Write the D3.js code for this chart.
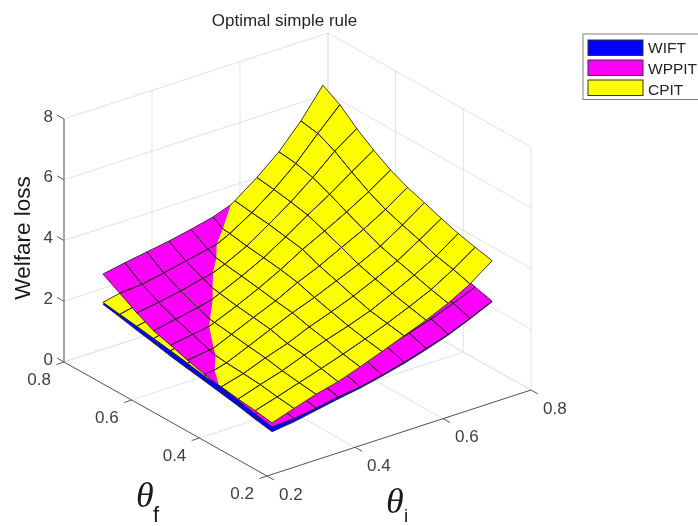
<!DOCTYPE html>
<html lang="en">
<head>
    <meta charset="UTF-8">
    <title>Optimal simple rule</title>
    <script src="https://cdnjs.cloudflare.com/ajax/libs/d3/7.9.0/d3.min.js"></script>
    <style>
        body {
            margin: 0;
            padding: 0;
            background: white;
            overflow: hidden;
        }
        svg {
            display: block;
            font-family: "Liberation Sans", Arial, sans-serif;
            filter: blur(0.5px);
        }
    </style>
</head>
<body>
<svg id="chart" width="698" height="526"></svg>
<script>
    // grid of the surfaces, same for both theta axes
    const thetaGrid = [0.25, 0.30, 0.35, 0.40, 0.45, 0.50, 0.55, 0.60, 0.65, 0.70, 0.75];

    const axisTicks = [0.2, 0.4, 0.6, 0.8];
    const zTicks = [0, 2, 4, 6, 8];

    const seriesNames = ["WIFT", "WPPIT", "CPIT"];
    const seriesColors = ["#0000ff", "#ff00ff", "#ffff00"];

    // welfare loss, rows = theta_f from 0.25 up, columns = theta_i from 0.25 up
    const lossWIFT = [
        [0.91, 1.00, 1.14, 1.28, 1.40, 1.56, 1.74, 1.96, 2.20, 2.50, 2.83],
        [1.01, 1.09, 1.21, 1.34, 1.46, 1.62, 1.80, 2.02, 2.27, 2.57, 2.90],
        [1.13, 1.19, 1.29, 1.41, 1.53, 1.68, 1.86, 2.08, 2.33, 2.64, 2.97],
        [1.23, 1.28, 1.37, 1.48, 1.60, 1.75, 1.93, 2.15, 2.40, 2.71, 3.05],
        [1.33, 1.37, 1.45, 1.56, 1.68, 1.83, 2.01, 2.23, 2.48, 2.79, 3.14],
        [1.42, 1.46, 1.54, 1.64, 1.76, 1.91, 2.09, 2.31, 2.57, 2.88, 3.24],
        [1.52, 1.56, 1.63, 1.73, 1.85, 2.00, 2.18, 2.41, 2.67, 2.98, 3.35],
        [1.64, 1.67, 1.73, 1.83, 1.95, 2.10, 2.28, 2.51, 2.77, 3.10, 3.47],
        [1.75, 1.78, 1.84, 1.94, 2.06, 2.21, 2.39, 2.62, 2.90, 3.23, 3.60],
        [1.87, 1.90, 1.96, 2.06, 2.18, 2.33, 2.52, 2.75, 3.03, 3.37, 3.75],
        [1.98, 2.02, 2.09, 2.19, 2.31, 2.47, 2.66, 2.90, 3.18, 3.52, 3.92]
    ];
    const lossWPPIT = [
        [1.07, 1.11, 1.21, 1.35, 1.44, 1.60, 1.78, 2.00, 2.23, 2.52, 2.85],
        [1.18, 1.22, 1.34, 1.49, 1.62, 1.79, 1.97, 2.19, 2.42, 2.70, 3.00],
        [1.31, 1.35, 1.48, 1.63, 1.80, 1.98, 2.17, 2.38, 2.62, 2.88, 3.17],
        [1.44, 1.51, 1.62, 1.78, 1.95, 2.13, 2.32, 2.53, 2.76, 3.02, 3.30],
        [1.55, 1.62, 1.76, 1.93, 2.12, 2.30, 2.49, 2.69, 2.91, 3.17, 3.44],
        [1.70, 1.80, 1.91, 2.08, 2.27, 2.46, 2.65, 2.85, 3.08, 3.33, 3.60],
        [1.88, 2.00, 2.12, 2.27, 2.45, 2.65, 2.83, 3.03, 3.27, 3.53, 3.82],
        [2.04, 2.19, 2.33, 2.52, 2.68, 2.85, 3.02, 3.22, 3.45, 3.72, 4.05],
        [2.32, 2.43, 2.57, 2.75, 2.90, 3.05, 3.22, 3.42, 3.67, 3.95, 4.30],
        [2.65, 2.71, 2.85, 3.01, 3.16, 3.32, 3.50, 3.70, 3.95, 4.25, 4.60],
        [2.97, 3.11, 3.23, 3.35, 3.50, 3.67, 3.93, 4.20, 4.45, 4.75, 5.05]
    ];
    const lossCPIT = [
        [1.20, 1.44, 1.67, 1.85, 2.10, 2.37, 2.65, 2.93, 3.25, 3.65, 4.18],
        [1.29, 1.51, 1.74, 1.97, 2.21, 2.47, 2.75, 3.06, 3.39, 3.82, 4.31],
        [1.36, 1.60, 1.82, 2.10, 2.36, 2.59, 2.85, 3.19, 3.55, 3.95, 4.45],
        [1.45, 1.65, 1.93, 2.17, 2.48, 2.74, 3.02, 3.35, 3.71, 4.16, 4.63],
        [1.49, 1.69, 2.00, 2.32, 2.63, 2.90, 3.21, 3.52, 3.88, 4.34, 4.84],
        [1.60, 1.76, 2.08, 2.40, 2.71, 3.08, 3.39, 3.76, 4.12, 4.54, 5.03],
        [1.70, 1.88, 2.16, 2.47, 2.81, 3.19, 3.62, 3.99, 4.38, 4.81, 5.29],
        [1.79, 1.96, 2.22, 2.57, 2.90, 3.27, 3.72, 4.20, 4.65, 5.15, 5.63],
        [1.88, 2.03, 2.33, 2.68, 2.98, 3.34, 3.82, 4.32, 4.89, 5.52, 6.03],
        [1.96, 2.12, 2.40, 2.75, 3.08, 3.44, 3.89, 4.42, 5.04, 5.79, 6.50],
        [2.04, 2.20, 2.47, 2.80, 3.15, 3.50, 3.97, 4.50, 5.11, 5.89, 6.83]
    ];

    const svg = d3.select("#chart");

    // oblique projection: one pixel offset scale per data axis
    const originX = 267, originY = 476;
    const xFromI = d3.scaleLinear().domain([0.2, 0.8]).range([0, 264]);
    const yFromI = d3.scaleLinear().domain([0.2, 0.8]).range([0, -86]);
    const xFromF = d3.scaleLinear().domain([0.2, 0.8]).range([0, -203]);
    const yFromF = d3.scaleLinear().domain([0.2, 0.8]).range([0, -114]);
    const yFromZ = d3.scaleLinear().domain([0, 8]).range([0, -243]);

    function project(ti, tf, z) {
        return [
            originX + xFromI(ti) + xFromF(tf),
            originY + yFromI(ti) + yFromF(tf) + yFromZ(z)
        ];
    }

    const line = d3.line();

    function seg(g, a, b, color, width) {
        g.append("path")
            .attr("d", line([a, b]))
            .attr("fill", "none")
            .attr("stroke", color)
            .attr("stroke-width", width);
    }

    // back walls and floor grid
    const grid = svg.append("g");
    const gridColor = "#e2e2e2";
    axisTicks.forEach(t => {
        // floor
        seg(grid, project(t, 0.2, 0), project(t, 0.8, 0), gridColor, 1);
        seg(grid, project(0.2, t, 0), project(0.8, t, 0), gridColor, 1);
        // walls, verticals
        seg(grid, project(t, 0.8, 0), project(t, 0.8, 8), gridColor, 1);
        seg(grid, project(0.8, t, 0), project(0.8, t, 8), gridColor, 1);
    });
    zTicks.forEach(z => {
        seg(grid, project(0.2, 0.8, z), project(0.8, 0.8, z), gridColor, 1);
        seg(grid, project(0.8, 0.8, z), project(0.8, 0.2, z), gridColor, 1);
    });

    // axis lines and ticks
    const axes = svg.append("g");
    const axisColor = "#5a5a5a";
    seg(axes, project(0.2, 0.8, 0), project(0.2, 0.8, 8), axisColor, 1);
    seg(axes, project(0.2, 0.2, 0), project(0.2, 0.8, 0), axisColor, 1);
    seg(axes, project(0.2, 0.2, 0), project(0.8, 0.2, 0), axisColor, 1);

    const tickFont = 17;
    const tickColor = "#404040";

    axisTicks.forEach(t => {
        const pf = project(0.2, t, 0);
        seg(axes, pf, [pf[0] - 7.6, pf[1] + 2.5], axisColor, 1);
        axes.append("text")
            .attr("x", pf[0] - 13).attr("y", pf[1] + 22.5)
            .attr("text-anchor", "end")
            .attr("font-size", tickFont).attr("fill", tickColor)
            .text(t.toFixed(1));
        const pi = project(t, 0.2, 0);
        seg(axes, pi, [pi[0] + 7, pi[1] + 3.9], axisColor, 1);
        axes.append("text")
            .attr("x", pi[0] + 12).attr("y", pi[1] + 23.5)
            .attr("font-size", tickFont).attr("fill", tickColor)
            .text(t.toFixed(1));
    });
    zTicks.forEach(z => {
        const pz = project(0.2, 0.8, z);
        seg(axes, pz, [pz[0] - 7, pz[1] - 3.9], axisColor, 1);
        axes.append("text")
            .attr("x", pz[0] - 11).attr("y", pz[1] + 2.5)
            .attr("text-anchor", "end")
            .attr("font-size", tickFont).attr("fill", tickColor)
            .text(z);
    });

    // cuts a cell of a surface to the part where sign * (a - b) >= 0
    function clipCell(za, zb, r, c, sign) {
        const corners = [[r, c], [r, c + 1], [r + 1, c + 1], [r + 1, c]];
        const out = [];
        corners.forEach((p, k) => {
            const q = corners[(k + 1) % 4];
            const dp = sign * (za[p[0]][p[1]] - zb[p[0]][p[1]]);
            const dq = sign * (za[q[0]][q[1]] - zb[q[0]][q[1]]);
            if (dp >= 0) {
                out.push({ pos: project(thetaGrid[p[1]], thetaGrid[p[0]], za[p[0]][p[1]]), cut: false });
            }
            if (dp * dq < 0) {
                const t = dp / (dp - dq);
                const ti = thetaGrid[p[1]] + t * (thetaGrid[q[1]] - thetaGrid[p[1]]);
                const tf = thetaGrid[p[0]] + t * (thetaGrid[q[0]] - thetaGrid[p[0]]);
                const z = za[p[0]][p[1]] + t * (za[q[0]][q[1]] - za[p[0]][p[1]]);
                out.push({ pos: project(ti, tf, z), cut: true });
            }
        });
        return out;
    }

    function cellList(za, zb, sign) {
        const cells = [];
        // far cells first
        for (let r = thetaGrid.length - 2; r >= 0; r--) {
            for (let c = thetaGrid.length - 2; c >= 0; c--) {
                const poly = zb ? clipCell(za, zb, r, c, sign) : clipCell(za, za, r, c, 1);
                if (poly.length > 2) cells.push(poly);
            }
        }
        return cells;
    }

    function drawSurface(cells, color) {
        const g = svg.append("g");
        g.selectAll("path.fill")
            .data(cells)
            .join("path")
            .attr("class", "fill")
            .attr("d", d => line(d.map(p => p.pos)) + "Z")
            .attr("fill", color);
        g.selectAll("path.edge")
            .data(cells)
            .join("path")
            .attr("class", "edge")
            .attr("d", d => {
                let s = "";
                d.forEach((p, k) => {
                    const q = d[(k + 1) % d.length];
                    if (!(p.cut && q.cut)) s += line([p.pos, q.pos]);
                });
                return s;
            })
            .attr("fill", "none")
            .attr("stroke", "#262626")
            .attr("stroke-width", 0.9);
    }

    // CPIT crosses WPPIT, so it goes down in two parts
    drawSurface(cellList(lossWIFT, null, 1), seriesColors[0]);
    drawSurface(cellList(lossCPIT, lossWPPIT, -1), seriesColors[2]);
    drawSurface(cellList(lossWPPIT, null, 1), seriesColors[1]);
    drawSurface(cellList(lossCPIT, lossWPPIT, 1), seriesColors[2]);

    // title and axis labels
    svg.append("text")
        .attr("x", 284.5).attr("y", 26)
        .attr("text-anchor", "middle")
        .attr("font-size", 17).attr("fill", "#262626")
        .text("Optimal simple rule");

    svg.append("text")
        .attr("transform", "translate(29.5,238) rotate(-90)")
        .attr("text-anchor", "middle")
        .attr("font-size", 22.5).attr("fill", "#1a1a1a")
        .text("Welfare loss");

    function thetaLabel(x, y, sub, subX, subY, subSize) {
        svg.append("text")
            .attr("x", x).attr("y", y)
            .attr("font-family", "'Liberation Serif', serif")
            .attr("font-style", "italic")
            .attr("font-size", 36).attr("fill", "#1a1a1a")
            .text("\u03b8");
        svg.append("text")
            .attr("x", subX).attr("y", subY)
            .attr("font-size", subSize).attr("fill", "#1a1a1a")
            .text(sub);
    }
    thetaLabel(136, 507, "f", 153, 522, 22);
    thetaLabel(386, 513, "i", 404, 522, 19);

    // legend, runs off the right edge of the picture
    const legend = svg.append("g");
    legend.append("rect")
        .attr("x", 583).attr("y", 34)
        .attr("width", 130).attr("height", 65.5)
        .attr("fill", "white")
        .attr("stroke", "#808080");
    seriesNames.forEach((name, k) => {
        legend.append("rect")
            .attr("x", 588).attr("y", 40 + k * 20)
            .attr("width", 55).attr("height", 15.5)
            .attr("fill", seriesColors[k])
            .attr("stroke", "#333");
        legend.append("text")
            .attr("x", 648).attr("y", 53 + k * 21)
            .attr("font-size", 15.5).attr("fill", "#262626")
            .text(name);
    });
</script>
</body>
</html>
